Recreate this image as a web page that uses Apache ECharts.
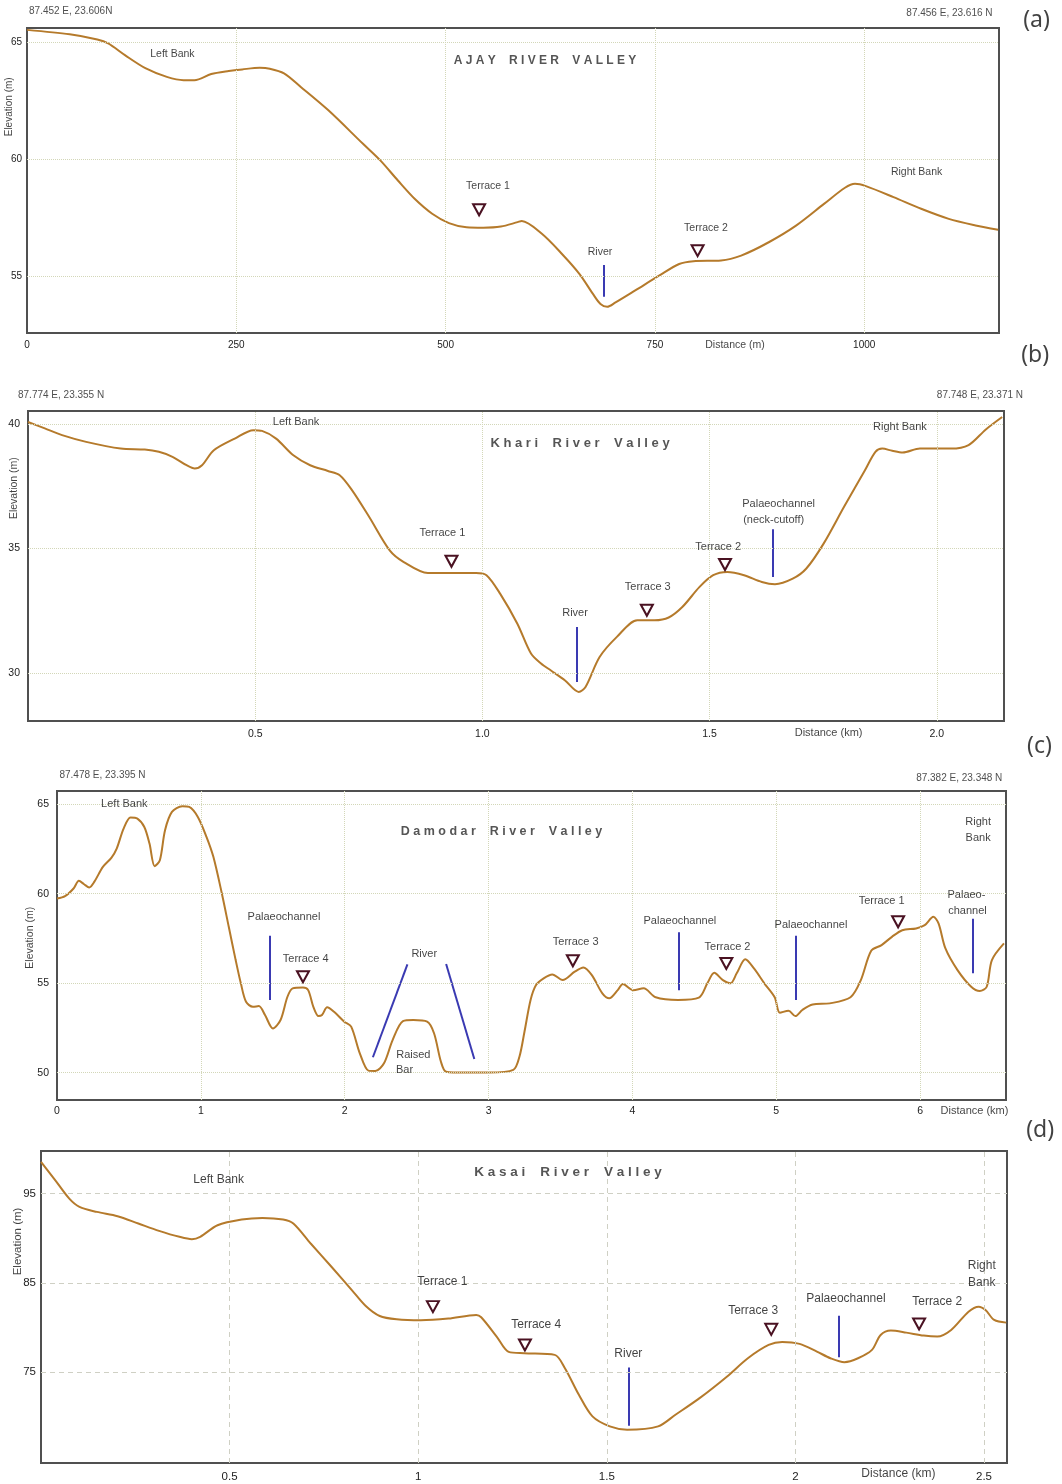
<!DOCTYPE html>
<html>
<head>
<meta charset="utf-8">
<title>River valley cross profiles</title>
<script src="https://cdn.jsdelivr.net/npm/echarts@6.0.0/dist/echarts.min.js"></script>
<style>
  html, body { margin: 0; padding: 0; background: #ffffff; }
  #chart { width: 1062px; height: 1484px; }
</style>
</head>
<body>
<div id="chart"></div>
<script>
// ---------- (a) Ajay river valley : distance in m, elevation in m ----------
const ajayDist = [0, 51, 84, 97, 117, 142, 167, 187, 200, 220, 241, 257, 278, 290, 307, 327, 360, 401, 422, 443,
  463, 484, 504, 525, 545, 566, 586, 591, 615, 639, 660, 676, 685, 693, 703, 726, 755, 779, 796, 829,
  853, 886, 919, 952, 977, 989, 1002, 1035, 1068, 1101, 1133, 1160];
const ajayElev = [65.55, 65.36, 65.14, 64.97, 64.47, 63.90, 63.54, 63.40, 63.40, 63.66, 63.79, 63.86, 63.93, 63.89, 63.69, 63.11, 62.11, 60.69, 59.97, 59.11,
  58.33, 57.69, 57.29, 57.11, 57.09, 57.14, 57.33, 57.38, 56.83, 55.97, 55.11, 54.26, 53.83, 53.71, 53.90, 54.40, 55.04, 55.54, 55.66, 55.69,
  55.90, 56.47, 57.19, 58.11, 58.80, 58.97, 58.87, 58.40, 57.90, 57.47, 57.19, 57.00];
const ajayXRange = [0, 1161];
const ajayYRange = [52.59, 65.63];
const ajayXTicks = [0, 250, 500, 750, 1000];
const ajayYTicks = [55, 60, 65];
const ajayTerraceDist = [540, 801];
const ajayTerraceElev = [57.86, 56.11];
const ajayChannelTopDist = [688.5];
const ajayChannelTopElev = [55.5];
const ajayChannelBaseDist = [688.5];
const ajayChannelBaseElev = [54.14];
const ajayNoteText = ['Left Bank', 'AJAY RIVER VALLEY', 'Terrace 1', 'River', 'Terrace 2', 'Right Bank',
  'Distance (m)', 'Elevation (m)', '87.452 E, 23.606N', '87.456 E, 23.616 N', '(a)'];
const ajayNoteDist = [173.7, 618.7, 550.6, 684.4, 811, 1062.6, 845.7, -21.5, 52.2, 1101.8, 1205.8];
const ajayNoteElev = [64.52, 64.22, 58.88, 56.06, 57.08, 59.47, 52.08, 62.26, 66.35, 66.26, 65.97];
const ajayNoteKind = ['tag', 'title', 'tag', 'tag', 'tag', 'tag', 'tag', 'yname', 'coord', 'coord', 'panel'];

// ---------- (b) Khari river valley : distance in km ----------
const khariDist = [0, 0.037, 0.075, 0.128, 0.204, 0.257, 0.288, 0.318, 0.349, 0.367, 0.383, 0.409, 0.455, 0.496, 0.515, 0.546, 0.584, 0.621, 0.660, 0.686,
  0.713, 0.751, 0.796, 0.827, 0.880, 0.925, 0.986, 1.009, 1.039, 1.077, 1.107, 1.129, 1.151, 1.182, 1.212, 1.227, 1.258, 1.296, 1.341, 1.379,
  1.410, 1.440, 1.478, 1.508, 1.539, 1.576, 1.615, 1.644, 1.683, 1.713, 1.751, 1.796, 1.842, 1.865, 1.880, 1.902, 1.925, 1.963, 2.031, 2.070,
  2.108, 2.144];
const khariElev = [40.09, 39.83, 39.56, 39.29, 39.02, 38.98, 38.89, 38.69, 38.35, 38.22, 38.35, 38.95, 39.42, 39.76, 39.73, 39.42, 38.75, 38.35, 38.12, 37.95,
  37.35, 36.27, 34.93, 34.46, 34.02, 34.02, 34.02, 33.93, 33.19, 31.98, 30.78, 30.38, 30.10, 29.70, 29.24, 29.44, 30.64, 31.45, 32.12, 32.12,
  32.23, 32.65, 33.46, 33.93, 34.06, 33.93, 33.66, 33.57, 33.79, 34.20, 35.20, 36.68, 38.15, 38.89, 39.02, 38.93, 38.86, 39.02, 39.02, 39.16,
  39.79, 40.29];
const khariXRange = [0, 2.148];
const khariYRange = [28.07, 40.53];
const khariXTicks = [0.5, 1.0, 1.5, 2.0];
const khariYTicks = [30, 35, 40];
const khariTerraceDist = [0.932, 1.362, 1.534];
const khariTerraceElev = [34.49, 32.52, 34.36];
const khariChannelTopDist = [1.208, 1.638];
const khariChannelTopElev = [31.85, 35.78];
const khariChannelBaseDist = [1.208, 1.638];
const khariChannelBaseElev = [29.64, 33.86];
const khariNoteText = ['Left Bank', 'Khari River Valley', 'Terrace 1', 'River', 'Terrace 3', 'Terrace 2', 'Palaeochannel',
  '(neck-cutoff)', 'Right Bank', 'Distance (km)', 'Elevation (m)', '87.774 E, 23.355 N', '87.748 E, 23.371 N', '(b)'];
const khariNoteDist = [0.59, 1.215, 0.912, 1.204, 1.364, 1.519, 1.652, 1.641, 1.919, 1.762, -0.031, 0.0728, 2.095, 2.2166];
const khariNoteElev = [40.07, 39.24, 35.63, 32.41, 33.46, 35.07, 36.78, 36.17, 39.89, 27.58, 37.43, 41.17, 41.17, 42.77];
const khariNoteKind = ['tag', 'title', 'tag', 'tag', 'tag', 'tag', 'tag', 'tag', 'tag', 'tag', 'yname', 'coord', 'coord', 'panel'];

// ---------- (c) Damodar river valley : distance in km ----------
const damodarDist = [0, 0.056, 0.115, 0.152, 0.188, 0.224, 0.259, 0.319, 0.379, 0.415, 0.463, 0.511, 0.559, 0.607, 0.643, 0.679, 0.715, 0.751, 0.799, 0.871,
  0.919, 0.979, 1.039, 1.087, 1.146, 1.194, 1.242, 1.278, 1.314, 1.362, 1.403, 1.446, 1.501, 1.554, 1.602, 1.638, 1.710, 1.746, 1.782, 1.818,
  1.842, 1.878, 1.926, 1.997, 2.045, 2.105, 2.165, 2.213, 2.273, 2.333, 2.405, 2.477, 2.573, 2.621, 2.669, 2.705, 2.836, 3.004, 3.172, 3.215,
  3.250, 3.292, 3.330, 3.383, 3.443, 3.515, 3.599, 3.659, 3.718, 3.791, 3.839, 3.898, 3.934, 4.006, 4.078, 4.162, 4.318, 4.462, 4.521, 4.569,
  4.629, 4.682, 4.725, 4.785, 4.845, 4.917, 4.989, 5.025, 5.085, 5.133, 5.181, 5.253, 5.372, 5.516, 5.588, 5.660, 5.732, 5.804, 5.876, 5.972,
  6.032, 6.092, 6.128, 6.176, 6.260, 6.355, 6.415, 6.463, 6.499, 6.583];
const damodarElev = [59.73, 59.86, 60.29, 60.72, 60.53, 60.35, 60.66, 61.50, 62.02, 62.52, 63.64, 64.26, 64.20, 63.73, 62.80, 61.54, 61.87, 63.55, 64.57, 64.89,
  64.85, 64.29, 63.18, 62.06, 60.01, 58.15, 56.29, 54.99, 53.96, 53.68, 53.72, 53.22, 52.47, 52.94, 54.24, 54.71, 54.76, 54.61, 53.68, 53.16,
  53.22, 53.65, 53.40, 52.85, 52.57, 51.08, 50.11, 50.09, 50.52, 51.82, 52.88, 52.94, 52.85, 52.20, 50.61, 50.05, 50.00, 50.00, 50.15, 50.90,
  52.30, 54.06, 54.90, 55.27, 55.49, 55.17, 55.64, 55.88, 55.45, 54.43, 54.15, 54.61, 54.95, 54.61, 54.71, 54.21, 54.06, 54.19, 54.99, 55.58,
  55.17, 54.99, 55.55, 56.33, 55.82, 54.99, 54.21, 53.35, 53.46, 53.16, 53.50, 53.81, 53.87, 54.21, 55.17, 56.81, 57.13, 57.59, 57.96, 58.06,
  58.24, 58.71, 58.34, 56.94, 55.73, 54.80, 54.56, 54.80, 56.29, 57.22];
const damodarXRange = [0, 6.597];
const damodarYRange = [48.47, 65.74];
const damodarXTicks = [0, 1, 2, 3, 4, 5, 6];
const damodarYTicks = [50, 55, 60, 65];
const damodarTerraceDist = [1.71, 3.586, 4.653, 5.847];
const damodarTerraceElev = [55.36, 56.25, 56.1, 58.43];
const damodarChannelTopDist = [1.477, 2.436, 2.705, 4.323, 5.138, 6.367];
const damodarChannelTopElev = [57.65, 56.05, 56.07, 57.85, 57.65, 58.6];
const damodarChannelBaseDist = [1.477, 2.196, 2.901, 4.323, 5.138, 6.367];
const damodarChannelBaseElev = [54.06, 50.86, 50.76, 54.61, 54.06, 55.55];
const damodarNoteText = ['Left Bank', 'Damodar River Valley', 'Palaeochannel', 'Terrace 4', 'River', 'Raised', 'Bar',
  'Terrace 3', 'Palaeochannel', 'Terrace 2', 'Palaeochannel', 'Terrace 1', 'Palaeo-', 'channel', 'Right', 'Bank',
  'Distance (km)', 'Elevation (m)', '87.478 E, 23.395 N', '87.382 E, 23.348 N', '(c)'];
const damodarNoteDist = [0.468, 3.09, 1.578, 1.729, 2.553, 2.477, 2.416, 3.606, 4.33, 4.661, 5.241, 5.732, 6.322, 6.329, 6.403, 6.403,
  6.378, -0.184, 0.3163, 6.272, 6.83];
const damodarNoteElev = [65.0, 63.49, 58.71, 56.35, 56.62, 50.99, 50.15, 57.31, 58.48, 57.03, 58.28, 59.58, 59.92, 59.04, 64.01, 63.14,
  47.85, 57.54, 66.62, 66.48, 68.24];
const damodarNoteKind = ['tag', 'title', 'tag', 'tag', 'tag', 'tag', 'tag', 'tag', 'tag', 'tag', 'tag', 'tag', 'tag', 'tag', 'tag', 'tag',
  'tag', 'yname', 'coord', 'coord', 'panel'];

// ---------- (d) Kasai river valley : distance in km ----------
const kasaiDist = [0, 0.038, 0.075, 0.102, 0.148, 0.203, 0.258, 0.313, 0.367, 0.400, 0.422, 0.468, 0.532, 0.587, 0.642, 0.669, 0.715, 0.770, 0.824, 0.861,
  0.898, 0.943, 1.007, 1.080, 1.154, 1.167, 1.208, 1.240, 1.281, 1.362, 1.389, 1.426, 1.462, 1.508, 1.554, 1.636, 1.682, 1.746, 1.819, 1.874,
  1.929, 1.965, 2.011, 2.057, 2.093, 2.130, 2.166, 2.203, 2.226, 2.253, 2.294, 2.340, 2.376, 2.413, 2.459, 2.486, 2.504, 2.527, 2.559];
const kasaiElev = [98.54, 96.49, 94.44, 93.51, 92.95, 92.47, 91.65, 90.83, 90.16, 89.90, 90.16, 91.46, 92.10, 92.28, 92.10, 91.65, 89.41, 86.81, 84.20, 82.41,
  81.29, 80.92, 80.81, 81.00, 81.41, 81.15, 78.99, 77.27, 77.12, 76.94, 75.45, 72.47, 70.05, 68.93, 68.56, 68.93, 70.23, 72.09, 74.52, 76.56,
  78.05, 78.39, 78.17, 77.31, 76.56, 76.12, 76.56, 77.50, 79.17, 79.66, 79.43, 79.10, 78.99, 79.73, 81.78, 82.34, 81.96, 80.85, 80.55];
const kasaiXRange = [0, 2.561];
const kasaiYRange = [64.83, 99.77];
const kasaiXTicks = [0.5, 1, 1.5, 2, 2.5];
const kasaiYTicks = [75, 85, 95];
const kasaiTerraceDist = [1.039, 1.283, 1.936, 2.328];
const kasaiTerraceElev = [82.34, 78.05, 79.8, 80.4];
const kasaiChannelTopDist = [1.559, 2.116];
const kasaiChannelTopElev = [75.52, 81.33];
const kasaiChannelBaseDist = [1.559, 2.116];
const kasaiChannelBaseElev = [69.0, 76.68];
const kasaiNoteText = ['Left Bank', 'Kasai River Valley', 'Terrace 1', 'Terrace 4', 'River', 'Terrace 3', 'Palaeochannel',
  'Terrace 2', 'Right', 'Bank', 'Distance (km)', 'Elevation (m)', '(d)'];
const kasaiNoteDist = [0.471, 1.397, 1.064, 1.313, 1.557, 1.888, 2.134, 2.376, 2.494, 2.494, 2.273, -0.0623, 2.649];
const kasaiNoteElev = [96.56, 97.35, 85.12, 80.28, 77.08, 81.88, 83.27, 82.89, 86.88, 85.01, 63.63, 89.64, 102.11];
const kasaiNoteKind = ['tag', 'title', 'tag', 'tag', 'tag', 'tag', 'tag', 'tag', 'tag', 'tag', 'tag', 'yname', 'panel'];

// ---------- drawing ----------
const FONT = "'Liberation Sans', Arial, Helvetica, sans-serif";
const PROFILE_COLOR = '#b57a2b';
const CHANNEL_COLOR = '#3a3ab2';
const TERRACE_EDGE = '#4a1222';

function zip(a, b) {
  const n = Math.min(a.length, b.length);
  const out = [];
  for (let i = 0; i < n; i++) out.push([a[i], b[i]]);
  return out;
}

// widen a heading by spacing out its letters
function spaced(s) {
  return s.split(' ').map(w => w.split('').join(' ')).join('    ');
}

const panels = [
  {
    dist: ajayDist, elev: ajayElev, xRange: ajayXRange, yRange: ajayYRange, xTicks: ajayXTicks, yTicks: ajayYTicks,
    tDist: ajayTerraceDist, tElev: ajayTerraceElev,
    cTopDist: ajayChannelTopDist, cTopElev: ajayChannelTopElev, cBaseDist: ajayChannelBaseDist, cBaseElev: ajayChannelBaseElev,
    nText: ajayNoteText, nDist: ajayNoteDist, nElev: ajayNoteElev, nKind: ajayNoteKind,
    fmt: v => String(v),
    box: { left: 27, top: 28, width: 972, height: 305 },
    look: { tag: 10.5, tick: 10, title: 12, coord: 10, xMargin: 7, yMargin: 5, dash: 'dotted', gridColor: '#d3d7b8' }
  },
  {
    dist: khariDist, elev: khariElev, xRange: khariXRange, yRange: khariYRange, xTicks: khariXTicks, yTicks: khariYTicks,
    tDist: khariTerraceDist, tElev: khariTerraceElev,
    cTopDist: khariChannelTopDist, cTopElev: khariChannelTopElev, cBaseDist: khariChannelBaseDist, cBaseElev: khariChannelBaseElev,
    nText: khariNoteText, nDist: khariNoteDist, nElev: khariNoteElev, nKind: khariNoteKind,
    fmt: v => v.toFixed(1),
    box: { left: 28, top: 411, width: 976, height: 310 },
    look: { tag: 11, tick: 10.5, title: 13, coord: 10, xMargin: 8, yMargin: 8, dash: 'dotted', gridColor: '#d3d7b8' }
  },
  {
    dist: damodarDist, elev: damodarElev, xRange: damodarXRange, yRange: damodarYRange, xTicks: damodarXTicks, yTicks: damodarYTicks,
    tDist: damodarTerraceDist, tElev: damodarTerraceElev,
    cTopDist: damodarChannelTopDist, cTopElev: damodarChannelTopElev, cBaseDist: damodarChannelBaseDist, cBaseElev: damodarChannelBaseElev,
    nText: damodarNoteText, nDist: damodarNoteDist, nElev: damodarNoteElev, nKind: damodarNoteKind,
    fmt: v => String(v),
    box: { left: 57, top: 791, width: 949, height: 309 },
    look: { tag: 11, tick: 10.5, title: 12.5, coord: 10, xMargin: 6, yMargin: 8, dash: 'dotted', gridColor: '#d3d7b8' }
  },
  {
    dist: kasaiDist, elev: kasaiElev, xRange: kasaiXRange, yRange: kasaiYRange, xTicks: kasaiXTicks, yTicks: kasaiYTicks,
    tDist: kasaiTerraceDist, tElev: kasaiTerraceElev,
    cTopDist: kasaiChannelTopDist, cTopElev: kasaiChannelTopElev, cBaseDist: kasaiChannelBaseDist, cBaseElev: kasaiChannelBaseElev,
    nText: kasaiNoteText, nDist: kasaiNoteDist, nElev: kasaiNoteElev, nKind: kasaiNoteKind,
    fmt: v => String(v),
    box: { left: 41, top: 1151, width: 966, height: 312 },
    look: { tag: 12, tick: 11.5, title: 13.5, coord: 10, xMargin: 8, yMargin: 5, dash: [5, 4], gridColor: '#cfd0c4' }
  }
];

function noteLabel(kind, look) {
  const base = { show: true, position: 'inside', formatter: '{b}', fontFamily: FONT, color: '#111',
                 textBorderWidth: 0, fontSize: look.tag };
  if (kind === 'title') return Object.assign(base, { fontSize: look.title, fontWeight: 'bold', color: '#2b2b2b' });
  if (kind === 'yname') return Object.assign(base, { rotate: 90, fontSize: look.tag - 0.5 });
  if (kind === 'coord') return Object.assign(base, { fontSize: look.coord, color: '#222' });
  if (kind === 'panel') return Object.assign(base, { fontSize: 23, fontFamily: "'Noto Sans', 'Open Sans', sans-serif", color: '#111' });
  return base;
}

const option = {
  animation: false,
  backgroundColor: '#ffffff',
  grid: [], xAxis: [], yAxis: [], series: []
};

panels.forEach((p, i) => {
  const look = p.look;
  option.grid.push({
    left: p.box.left, top: p.box.top, width: p.box.width, height: p.box.height,
    show: true, backgroundColor: '#ffffff', borderColor: '#505050', borderWidth: 2
  });
  option.xAxis.push({
    type: 'value', gridIndex: i, min: p.xRange[0], max: p.xRange[1],
    axisLine: { show: false }, axisTick: { show: false }, splitLine: { show: false },
    axisLabel: { customValues: p.xTicks, formatter: p.fmt, fontSize: look.tick, color: '#222',
                 fontFamily: FONT, margin: look.xMargin }
  });
  option.yAxis.push({
    type: 'value', gridIndex: i, min: p.yRange[0], max: p.yRange[1],
    axisLine: { show: false }, axisTick: { show: false }, splitLine: { show: false },
    axisLabel: { customValues: p.yTicks, fontSize: look.tick, color: '#222',
                 fontFamily: FONT, margin: look.yMargin }
  });

  // reference grid at each labelled value (skipping the frame edge)
  const gridLines = p.yTicks.map(v => ({ yAxis: v }))
    .concat(p.xTicks.filter(v => v > p.xRange[0]).map(v => ({ xAxis: v })));
  option.series.push({
    type: 'line', xAxisIndex: i, yAxisIndex: i, data: [], silent: true, z: 1,
    markLine: {
      silent: true, symbol: ['none', 'none'], animation: false,
      label: { show: false }, emphasis: { disabled: true },
      lineStyle: { color: look.gridColor, width: 1, type: look.dash },
      data: gridLines
    }
  });

  // elevation profile
  option.series.push({
    type: 'line', xAxisIndex: i, yAxisIndex: i, data: zip(p.dist, p.elev),
    showSymbol: false, symbol: 'none', smooth: 0.3, silent: true, z: 3,
    lineStyle: { color: PROFILE_COLOR, width: 2 }
  });

  // river / palaeochannel markers
  option.series.push({
    type: 'lines', coordinateSystem: 'cartesian2d', xAxisIndex: i, yAxisIndex: i, silent: true, z: 4,
    lineStyle: { color: CHANNEL_COLOR, width: 2, opacity: 1, curveness: 0 },
    data: p.cTopDist.map((d, k) => ({ coords: [[d, p.cTopElev[k]], [p.cBaseDist[k], p.cBaseElev[k]]] }))
  });

  // terrace markers
  option.series.push({
    type: 'scatter', xAxisIndex: i, yAxisIndex: i, silent: true, z: 5,
    symbol: 'triangle', symbolRotate: 180, symbolSize: [12, 11],
    itemStyle: { color: '#ffffff', borderColor: TERRACE_EDGE, borderWidth: 2, opacity: 1 },
    data: zip(p.tDist, p.tElev)
  });

  // annotations
  option.series.push({
    type: 'scatter', xAxisIndex: i, yAxisIndex: i, silent: true, z: 6, clip: false,
    symbol: 'circle', symbolSize: 0,
    data: p.nText.map((t, k) => ({
      name: p.nKind[k] === 'title' ? spaced(t) : t,
      value: [p.nDist[k], p.nElev[k]],
      label: noteLabel(p.nKind[k], look)
    }))
  });
});

const chart = echarts.init(document.getElementById('chart'), null, { renderer: 'canvas' });
chart.setOption(option);
</script>
</body>
</html>
